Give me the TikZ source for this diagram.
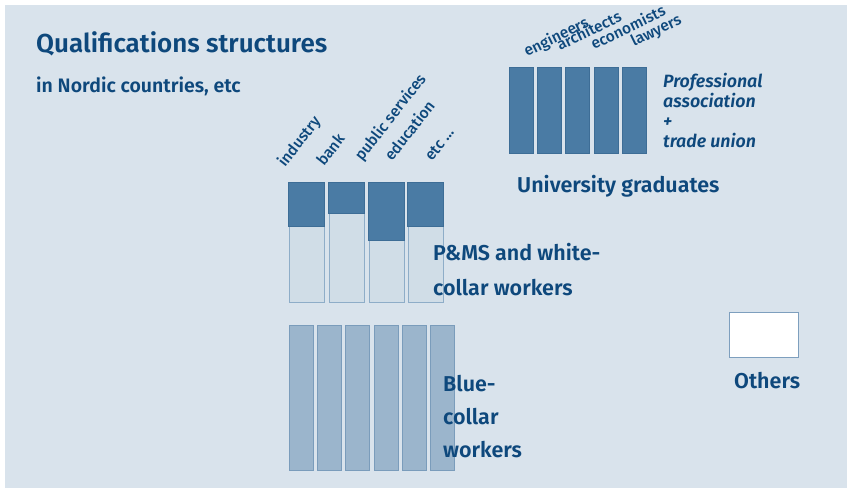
\documentclass[tikz,border=0pt]{standalone}
\usepackage{fontspec}
\setmainfont{Fira Sans}[BoldFont={Fira Sans SemiBold},BoldItalicFont={Fira Sans SemiBold Italic}]
\newfontfamily\firamed{Fira Sans Medium}
\definecolor{bg}{HTML}{D9E3EC}
\definecolor{ink}{HTML}{0E487C}
\definecolor{darkfill}{HTML}{4A7BA4}
\definecolor{darkedge}{HTML}{3D6D96}
\definecolor{palefill}{HTML}{D0DDE7}
\definecolor{paleedge}{HTML}{8EADC8}
\definecolor{midfill}{HTML}{9BB5CC}
\definecolor{midedge}{HTML}{7A9CBB}
\definecolor{whiteedge}{HTML}{7E9FBE}
\begin{document}
\begin{tikzpicture}[x=1pt,y=-1pt,
  lbl/.style={inner sep=0pt,anchor=base west,text=ink},
  bigbold/.style={lbl,font=\fontsize{21.5}{24}\selectfont\bfseries},
  small/.style={lbl,font=\fontsize{15.5}{17}\selectfont\firamed},
  ubar/.style={draw=darkedge,fill=darkfill,line width=0.8pt,minimum width=24pt,minimum height=86pt,inner sep=0pt},
  pbar/.style={draw=paleedge,fill=palefill,line width=0.8pt,minimum width=35pt,minimum height=119pt,inner sep=0pt},
  ptop/.style={draw=darkedge,fill=darkfill,line width=0.8pt},
  bbar/.style={draw=midedge,fill=midfill,line width=0.8pt,minimum width=24pt,minimum height=145pt,inner sep=0pt},
  obox/.style={draw=whiteedge,fill=white,line width=0.8pt,minimum width=69pt,minimum height=45pt,inner sep=0pt}]
\useasboundingbox (0,0) rectangle (847,488);
\fill[white] (0,0) rectangle (847,488);
\fill[bg] (5,5) rectangle (847,488);

% titles
\node[lbl,font=\fontsize{26}{30}\selectfont\bfseries] (title) at (36,52) {Qualifications structures};
\node[lbl,font=\fontsize{19.5}{22}\selectfont\bfseries] (subtitle) at (36,92) {in Nordic countries, etc};

% university graduates
\foreach \x [count=\i] in {521,549,577,606,634} {
  \node[ubar] (u\i) at (\x,110.5) {};
}
\node[small,rotate=26] (eng) at (527,57) {engineers};
\node[small,rotate=26] (arch) at (560,51) {architects};
\node[small,rotate=26] (econ) at (594,50) {economists};
\node[small,rotate=26] (law) at (634,47) {lawyers};
\node[lbl,font=\fontsize{17.8}{20}\selectfont\bfseries\itshape,align=left,anchor=north west] (prof) at (663,73) {Professional\\association\\+\\trade union};
\node[bigbold] (univ) at (517,192) {University graduates};

% P&MS
\foreach \x/\d [count=\i] in {306.5/226,346.5/213,386.5/240,425.5/226} {
  \node[pbar] (p\i) at (\x,242.5) {};
  \draw[ptop] (p\i.north west) rectangle (p\i.north east |- 0,\d);
}
\node[small,rotate=52] (ind) at (285,168) {industry};
\node[small,rotate=52] (bank) at (324,167) {bank};
\node[small,rotate=52] (pub) at (362,162) {public services};
\node[small,rotate=52] (edu) at (392,162) {education};
\node[small,rotate=52] (etc) at (432,162) {etc \dots};
\node[bigbold,align=left,anchor=north west,font=\fontsize{21.5}{35}\selectfont\bfseries] (pms) at (433,243) {P\&MS and white-\\collar workers};

% blue collar
\foreach \x [count=\i] in {301,329,357.5,386,414,442.5} {
  \node[bbar] (b\i) at (\x,397.5) {};
}
\node[bigbold,align=left,anchor=north west,font=\fontsize{21.5}{33}\selectfont\bfseries] (blue) at (443,375) {Blue-\\collar\\workers};

% others
\node[obox] (oth) at (763.5,334.5) {};
\node[bigbold] (othl) at (734,388) {Others};
\end{tikzpicture}
\end{document}
